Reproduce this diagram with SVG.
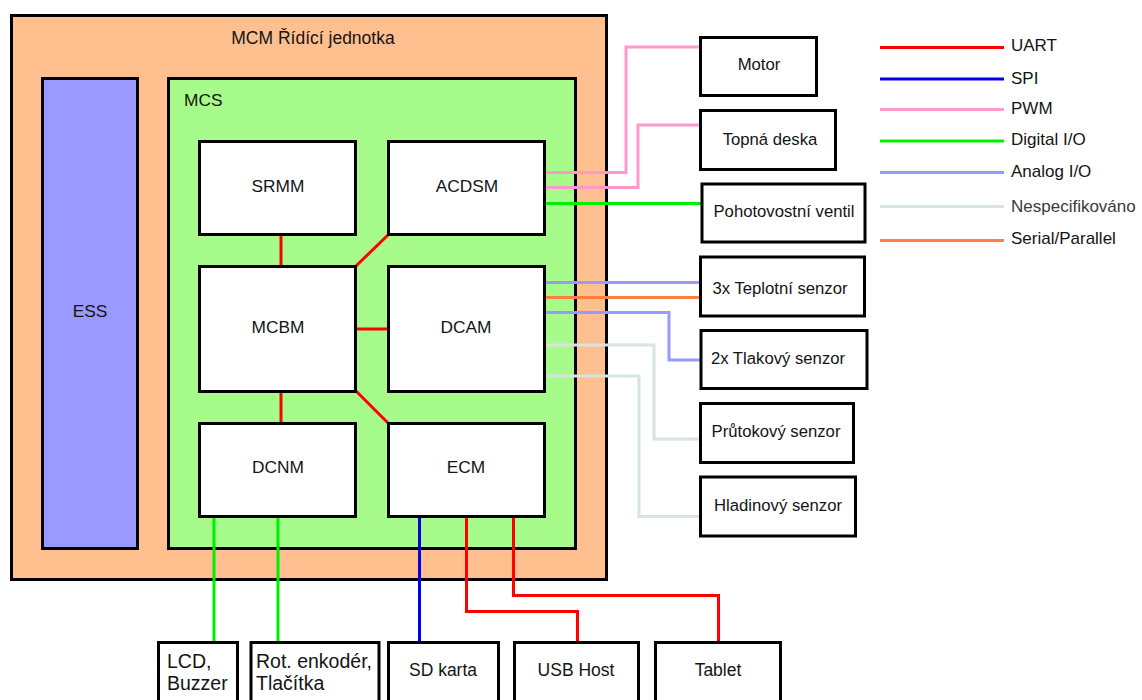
<svg xmlns="http://www.w3.org/2000/svg" width="1142" height="700" viewBox="0 0 1142 700">
<style>
text{font-family:"Liberation Sans",Arial,sans-serif;fill:#141414}
.box{fill:#fff;stroke:#000;stroke-width:3}
.ts{font-size:16.7px}
.t17{font-size:17.3px}
.lg{font-size:17px}
.mid{text-anchor:middle}
.c{fill:none;stroke-width:3}
.uart{stroke:#ff0000}
.spi{stroke:#0000ee}
.pwm{stroke:#ff99cc}
.dio{stroke:#00ee00}
.aio{stroke:#9999ff}
.nsp{stroke:#d8e4e0}
.ser{stroke:#ff7f40}
</style>
<rect width="1142" height="700" fill="#fff"/>
<g id="MCM">
<rect x="11.5" y="15.5" width="595" height="564" fill="#ffbf8f" stroke="#000" stroke-width="3"/>
<text class="mid" x="313" y="44" style="font-size:17.5px">MCM Řídící jednotka</text>
</g>
<g id="ESS">
<rect x="42.5" y="78.5" width="95" height="470" fill="#9999ff" stroke="#000" stroke-width="3"/>
<text class="t17 mid" x="90" y="317">ESS</text>
</g>
<g id="MCS">
<rect x="168.5" y="78.5" width="407" height="470" fill="#a6fb8a" stroke="#000" stroke-width="3"/>
<text class="t17" x="184" y="106">MCS</text>
</g>
<g id="connectors">
<path class="c uart" d="M281 234V267M281 391V424M356 266L388 235M356 329H388M356 391L388 423"/>
<path class="c pwm" d="M545 172.5H626V47H700M545 187.5H638V125H700"/>
<path class="c dio" d="M545 203.5H702"/>
<path class="c aio" d="M545 282.5H700M545 312.5H669V360H701"/>
<path class="c ser" d="M545 297.5H700"/>
<path class="c nsp" d="M545 345H654V439H700M545 376H639V516.5H700"/>
<path class="c dio" d="M214 516V643"/>
<path class="c dio" stroke-width="2" d="M278 516V643"/>
<path class="c spi" d="M419.5 516V643"/>
<path class="c uart" d="M466.5 516V611.5H577.5V643M513.5 516V595.5H718.5V643"/>
</g>
<g id="SRMM"><rect class="box" x="199.5" y="141.5" width="156" height="93"/><text class="t17 mid" x="278" y="192">SRMM</text></g>
<g id="ACDSM"><rect class="box" x="388.5" y="141.5" width="156" height="93"/><text class="t17 mid" x="467" y="192">ACDSM</text></g>
<g id="MCBM"><rect class="box" x="199.5" y="266.5" width="156" height="125"/><text class="t17 mid" x="278" y="333">MCBM</text></g>
<g id="DCAM"><rect class="box" x="388.5" y="266.5" width="156" height="125"/><text class="t17 mid" x="466" y="333">DCAM</text></g>
<g id="DCNM"><rect class="box" x="199.5" y="423.5" width="156" height="93"/><text class="t17 mid" x="278" y="473">DCNM</text></g>
<g id="ECM"><rect class="box" x="388.5" y="423.5" width="156" height="93"/><text class="t17 mid" x="466" y="473">ECM</text></g>
<g id="Motor"><rect class="box" x="700.5" y="37.5" width="116" height="58"/><text class="ts mid" x="759" y="70">Motor</text></g>
<g id="TopnaDeska"><rect class="box" x="700.5" y="110.5" width="135" height="59"/><text class="ts mid" x="770" y="145">Topná deska</text></g>
<g id="PohotovostniVentil"><rect class="box" x="702" y="184" width="163" height="58" stroke-width="3.5"/><text class="ts mid" x="784" y="217">Pohotovostní ventil</text></g>
<g id="TeplotniSenzor"><rect class="box" x="700.5" y="257" width="164" height="59"/><text class="ts mid" x="780" y="294">3x Teplotní senzor</text></g>
<g id="TlakovySenzor"><rect class="box" x="701" y="330.5" width="166" height="58" stroke-width="3.5"/><text class="ts mid" x="778" y="364">2x Tlakový senzor</text></g>
<g id="PrutokovySenzor"><rect class="box" x="700.5" y="403.5" width="153" height="59"/><text class="ts mid" x="776" y="437">Průtokový senzor</text></g>
<g id="HladinovySenzor"><rect class="box" x="700.5" y="477" width="155" height="59"/><text class="ts mid" x="778" y="511">Hladinový senzor</text></g>
<g id="LCD"><rect class="box" x="158.5" y="642.5" width="79" height="70" stroke-width="3.5"/><text x="167" y="668" style="font-size:19.5px">LCD,</text><text x="167" y="690" style="font-size:19.5px">Buzzer</text></g>
<g id="RotEnkoder"><rect class="box" x="251" y="642.5" width="128" height="70" stroke-width="3.5"/><text x="256" y="668" style="font-size:19.5px">Rot. enkodér,</text><text x="256" y="690" style="font-size:19.5px">Tlačítka</text></g>
<g id="SDkarta"><rect class="box" x="388.5" y="642.5" width="110" height="70"/><text class="mid" x="443" y="676" style="font-size:17.5px">SD karta</text></g>
<g id="USBHost"><rect class="box" x="514.5" y="642.5" width="124" height="70"/><text class="mid" x="576" y="676" style="font-size:17.5px">USB Host</text></g>
<g id="Tablet"><rect class="box" x="655.5" y="642.5" width="125" height="70"/><text class="mid" x="718" y="676" style="font-size:17.5px">Tablet</text></g>
<g id="legend">
<path class="c uart" d="M880 47.5H1004"/>
<path class="c spi" d="M880 79H1004"/>
<path class="c pwm" d="M880 109.5H1004"/>
<path class="c dio" d="M880 141H1004"/>
<path class="c aio" d="M880 172.5H1004"/>
<path class="c nsp" d="M880 206.5H1004"/>
<path class="c ser" d="M880 240.5H1004"/>
<text class="lg" x="1011" y="51">UART</text>
<text class="lg" x="1011" y="84">SPI</text>
<text class="lg" x="1011" y="114">PWM</text>
<text class="lg" x="1011" y="145">Digital I/O</text>
<text class="lg" x="1011" y="177">Analog I/O</text>
<text class="lg" x="1011" y="212" style="fill:#3a3a3a">Nespecifikováno</text>
<text class="lg" x="1011" y="244">Serial/Parallel</text>
</g>
</svg>
